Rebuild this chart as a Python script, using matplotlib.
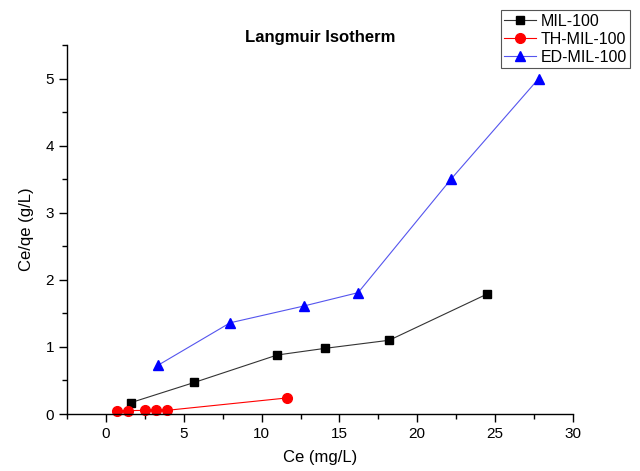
import matplotlib
matplotlib.use("Agg")
import matplotlib.pyplot as plt
from matplotlib.ticker import MultipleLocator

plt.rcParams['font.family'] = ['Liberation Sans', 'DejaVu Sans']

# data
mil_x = [1.6, 5.66, 11.0, 14.1, 18.2, 24.5]
mil_y = [0.17, 0.47, 0.88, 0.98, 1.10, 1.79]

th_x = [0.73, 1.39, 2.5, 3.21, 3.92, 11.65]
th_y = [0.05, 0.05, 0.055, 0.055, 0.055, 0.24]

ed_x = [3.36, 7.97, 12.7, 16.2, 22.2, 27.8]
ed_y = [0.73, 1.36, 1.61, 1.81, 3.51, 5.0]

fig = plt.figure(figsize=(6.4, 4.71), dpi=100)
ax = fig.add_axes([0.105, 0.121, 0.79, 0.783])

l1, = ax.plot(mil_x, mil_y, color='#333333', lw=0.8, marker='s', ms=6,
              mfc='black', mec='black', label='MIL-100', clip_on=False)
l2, = ax.plot(th_x, th_y, color='red', lw=0.8, marker='o', ms=7,
              mfc='red', mec='red', label='TH-MIL-100', clip_on=False)
l3, = ax.plot(ed_x, ed_y, color='#5555ee', lw=0.8, marker='^', ms=7,
              mfc='blue', mec='blue', label='ED-MIL-100', clip_on=False)

ax.set_xlim(-2.5, 30)
ax.set_ylim(0, 5.5)
ax.xaxis.set_major_locator(MultipleLocator(5))
ax.xaxis.set_minor_locator(MultipleLocator(2.5))
ax.yaxis.set_major_locator(MultipleLocator(1))
ax.yaxis.set_minor_locator(MultipleLocator(0.5))
ax.tick_params(which='major', direction='out', length=6, width=1, labelsize=11)
ax.tick_params(which='minor', direction='out', length=3.5, width=1)

ax.spines['top'].set_visible(False)
ax.spines['right'].set_visible(False)
ax.spines['left'].set_linewidth(1)
ax.spines['bottom'].set_linewidth(1)

ax.set_xlabel('Ce (mg/L)', fontsize=12, labelpad=6)
ax.set_ylabel('Ce/qe (g/L)', fontsize=12, labelpad=8)
ax.set_title('Langmuir Isotherm', fontsize=12, fontweight='bold', pad=1)

leg = fig.legend(handles=[l1, l2, l3], loc='upper right',
                 bbox_to_anchor=(0.985, 0.978), fontsize=11.5, frameon=True,
                 fancybox=False, edgecolor='#555555', framealpha=1,
                 borderpad=0.2, labelspacing=0.2, handlelength=2.0,
                 handletextpad=0.3, borderaxespad=0)
leg.get_frame().set_linewidth(0.8)

fig.savefig('out.png', dpi=100)
